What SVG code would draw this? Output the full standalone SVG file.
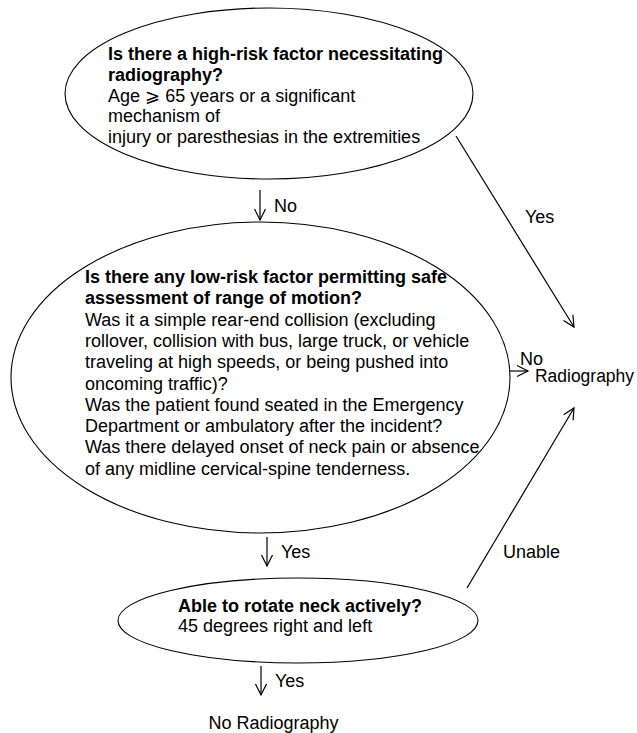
<svg xmlns="http://www.w3.org/2000/svg" width="637" height="733" viewBox="0 0 637 733">
<defs>
<style>
text{font-family:"Liberation Sans",Arial,sans-serif;font-size:18px;fill:#000}
.b{font-weight:bold}
.shape{fill:#fff;stroke:#000;stroke-width:1.1}
.edge{fill:none;stroke:#000;stroke-width:1.2}
</style>
<marker id="arr" markerUnits="userSpaceOnUse" markerWidth="14" markerHeight="14" refX="12" refY="7" orient="auto">
<path d="M1,1.5 L12,7 L1,12.5" fill="none" stroke="#000" stroke-width="1.2"/>
</marker>
</defs>
<rect width="637" height="733" fill="#fff"/>
<g id="connectors">
<line class="edge" x1="260" y1="190" x2="260" y2="220" marker-end="url(#arr)"/>
<text x="274" y="212">No</text>
<line class="edge" x1="456" y1="136" x2="574" y2="327" marker-end="url(#arr)"/>
<text x="525" y="223">Yes</text>
<line class="edge" x1="510" y1="371" x2="528" y2="371" marker-end="url(#arr)"/>
<text x="520" y="365">No</text>
<line class="edge" x1="267" y1="537" x2="267" y2="566" marker-end="url(#arr)"/>
<text x="281" y="558">Yes</text>
<line class="edge" x1="467" y1="588" x2="574" y2="408" marker-end="url(#arr)"/>
<text x="503" y="558">Unable</text>
<line class="edge" x1="261" y1="666" x2="261" y2="695" marker-end="url(#arr)"/>
<text x="275" y="687">Yes</text>
</g>
<g id="node-high-risk">
<ellipse class="shape" cx="269" cy="93.5" rx="204" ry="85.5"/>
<text class="b" x="108" y="60">Is there a high-risk factor necessitating</text>
<text class="b" x="108" y="81">radiography?</text>
<text x="108" y="102">Age <tspan font-family="DejaVu Sans">⩾</tspan> 65 years or a significant</text>
<text x="108" y="122">mechanism of</text>
<text x="108" y="143">injury or paresthesias in the extremities</text>
</g>
<g id="node-low-risk">
<ellipse class="shape" cx="260.5" cy="377.5" rx="249.5" ry="155.5"/>
<text class="b" x="85" y="283">Is there any low-risk factor permitting safe</text>
<text class="b" x="85" y="304.3">assessment of range of motion?</text>
<text x="85" y="325.6">Was it a simple rear-end collision (excluding</text>
<text x="85" y="346.9">rollover, collision with bus, large truck, or vehicle</text>
<text x="85" y="368.2">traveling at high speeds, or being pushed into</text>
<text x="85" y="389.5">oncoming traffic)?</text>
<text x="85" y="410.8">Was the patient found seated in the Emergency</text>
<text x="85" y="432.1">Department or ambulatory after the incident?</text>
<text x="85" y="453.4">Was there delayed onset of neck pain or absence</text>
<text x="85" y="474.7">of any midline cervical-spine tenderness.</text>
</g>
<g id="node-rotate">
<ellipse class="shape" cx="298" cy="620.5" rx="180" ry="42.5"/>
<text class="b" x="178" y="611.5">Able to rotate neck actively?</text>
<text x="178" y="632">45 degrees right and left</text>
</g>
<g id="node-radiography">
<text x="535" y="382" textLength="99" lengthAdjust="spacingAndGlyphs">Radiography</text>
</g>
<g id="node-no-radiography">
<text x="273.5" y="729" text-anchor="middle">No Radiography</text>
</g>
</svg>
